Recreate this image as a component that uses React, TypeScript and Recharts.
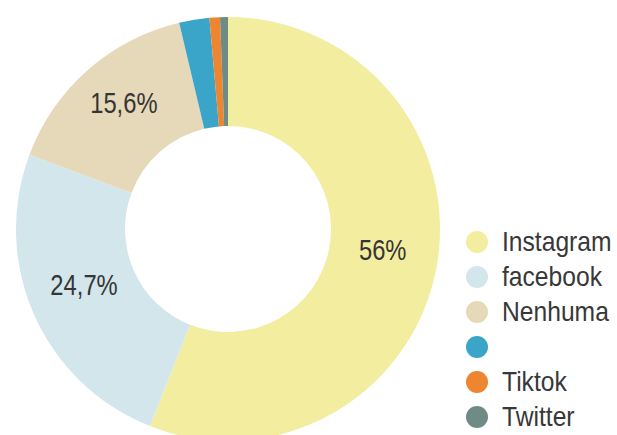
import { PieChart, Pie, Cell, Legend } from 'recharts';

const names = ['Instagram', 'facebook', 'Nenhuma', '', 'Tiktok', 'Twitter'];
const values = [56, 24.7, 15.6, 2.3, 0.8, 0.6];
const labels = ['56%', '24,7%', '15,6%', '', '', ''];
const colors = ['#f3ed9f', '#d2e6ec', '#e6d9b9', '#3aa4c9', '#ee8530', '#6e8c85'];

const data = names.map((name, i) => ({ name, value: values[i] }));

const RADIAN = Math.PI / 180;
const FONT = "'Liberation Sans', Arial, sans-serif";

// the original uses a condensed face, so squeeze the text horizontally
const renderLabel = (props: any) => {
  const { cx, cy, midAngle, innerRadius, outerRadius, index } = props;
  if (!labels[index]) return null;
  const r = (innerRadius + outerRadius) / 2;
  const x = cx + r * Math.cos(-midAngle * RADIAN);
  const y = cy + r * Math.sin(-midAngle * RADIAN) - 8;
  return (
    <g transform={`translate(${x},${y}) scale(0.82,1)`}>
      <text
        x={0}
        y={0}
        textAnchor="middle"
        dominantBaseline="central"
        fill="#353535"
        fontSize={29}
        fontFamily={FONT}
      >
        {labels[index]}
      </text>
    </g>
  );
};

const renderLegend = () => (
  <div style={{ fontFamily: FONT }}>
    {names.map((name, i) => (
      <div key={`leg-${i}`} style={{ display: 'flex', alignItems: 'center', height: 35 }}>
        <span
          style={{
            display: 'inline-block',
            width: 22,
            height: 22,
            borderRadius: '50%',
            background: colors[i],
            marginRight: 14,
            flexShrink: 0,
          }}
        />
        <span
          style={{
            display: 'inline-block',
            fontSize: 28,
            color: '#383838',
            whiteSpace: 'nowrap',
            transform: 'scaleX(0.88)',
            transformOrigin: 'left center',
          }}
        >
          {name}
        </span>
      </div>
    ))}
  </div>
);

export default function App() {
  return (
    <div style={{ position: 'absolute', left: 0, top: 0, width: 617, height: 435, background: '#fff', overflow: 'hidden' }}>
      <PieChart width={617} height={435}>
        <Pie
          data={data}
          dataKey="value"
          nameKey="name"
          cx={223}
          cy={224}
          innerRadius={103}
          outerRadius={212}
          startAngle={90}
          endAngle={-270}
          stroke="none"
          label={renderLabel}
          labelLine={false}
          isAnimationActive={false}
        >
          {data.map((entry, index) => (
            <Cell key={`cell-${index}`} fill={colors[index]} />
          ))}
        </Pie>
        <Legend
          layout="vertical"
          content={renderLegend}
          wrapperStyle={{ position: 'absolute', left: 466, top: 224, width: 151 }}
        />
      </PieChart>
    </div>
  );
}
